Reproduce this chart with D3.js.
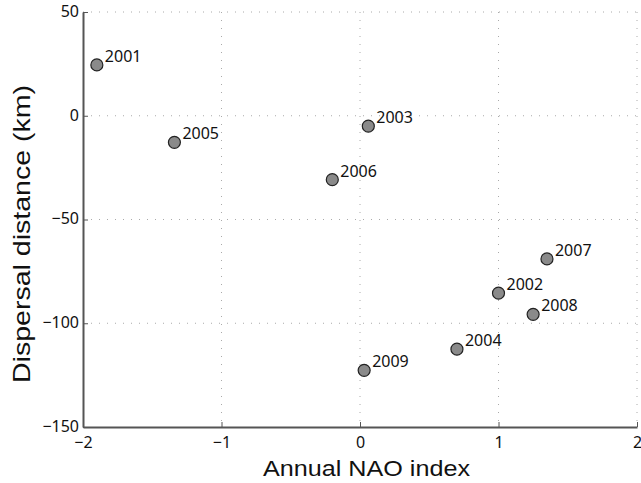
<!DOCTYPE html>
<html>
<head>
<meta charset="utf-8">
<script src="https://d3js.org/d3.v7.min.js"></script>
<style>
  body { margin: 0; background: #fff; }
  text { font-family: "Noto Sans", "Open Sans", sans-serif; fill: #111; }
  .title { font-family: "Liberation Sans", Arial, sans-serif; }
</style>
</head>
<body>
<div id="chart"></div>
<script>
// data
var years = ["2001", "2002", "2003", "2004", "2005", "2006", "2007", "2008", "2009"];
var nao = [-1.90, 1.00, 0.06, 0.70, -1.34, -0.20, 1.35, 1.25, 0.03];
var dispersal = [24.5, -85.5, -5, -112.5, -12.8, -30.8, -69, -95.7, -122.7];
var xTicks = [-2, -1, 0, 1, 2];
var yTicks = [-150, -100, -50, 0, 50];

var margin = {top: 12, right: 4, bottom: 56, left: 83},
    width = 641 - margin.left - margin.right,
    height = 483 - margin.top - margin.bottom;

var x = d3.scaleLinear().domain([-2, 2]).range([0, 554]);
var y = d3.scaleLinear().domain([-150, 50]).range([415, 0]);

var svg = d3.select("#chart").append("svg")
    .attr("width", 641)
    .attr("height", 483)
    .append("g")
    .attr("transform", "translate(" + margin.left + "," + margin.top + ")");

// dotted grid
svg.append("g").selectAll("line")
    .data(xTicks.slice(1))
    .enter().append("line")
    .attr("x1", function(d) { return x(d); })
    .attr("x2", function(d) { return x(d); })
    .attr("y1", 0).attr("y2", y(-150))
    .attr("stroke", "#aaa")
    .attr("stroke-width", 1)
    .attr("stroke-dasharray", "1,7");

svg.append("g").selectAll("line")
    .data(yTicks.slice(1))
    .enter().append("line")
    .attr("x1", 0).attr("x2", x(2))
    .attr("y1", function(d) { return y(d); })
    .attr("y2", function(d) { return y(d); })
    .attr("stroke", "#aaa")
    .attr("stroke-width", 1)
    .attr("stroke-dasharray", "1,7");

// axes
var fmt = function(d) { return d < 0 ? "\u2212" + Math.abs(d) : d; };
var xAxis = svg.append("g")
    .attr("transform", "translate(0," + y(-150) + ")")
    .call(d3.axisBottom(x).tickValues(xTicks).tickSizeInner(-5).tickSizeOuter(0).tickFormat(fmt));
var yAxis = svg.append("g")
    .call(d3.axisLeft(y).tickValues(yTicks).tickSizeInner(-5).tickSizeOuter(0).tickFormat(fmt));

[xAxis, yAxis].forEach(function(a) {
    a.select(".domain").attr("stroke", "#555").attr("stroke-width", 2);
    a.selectAll(".tick line").attr("stroke", "#555");
    a.selectAll(".tick text").style("font-size", "16px").attr("fill", "#111");
});
xAxis.selectAll(".tick text").attr("y", 10);
yAxis.selectAll(".tick text").attr("x", -4).attr("dy", "0.28em");

// points
svg.selectAll(".dot")
    .data(years)
    .enter().append("circle")
    .attr("class", "dot")
    .attr("cx", function(d, i) { return x(nao[i]); })
    .attr("cy", function(d, i) { return y(dispersal[i]); })
    .attr("r", 6)
    .attr("fill", "#8a8a8a")
    .attr("stroke", "#222")
    .attr("stroke-width", 1.2);

svg.selectAll(".lbl")
    .data(years)
    .enter().append("text")
    .attr("class", "lbl")
    .attr("x", function(d, i) { return x(nao[i]) + 8; })
    .attr("y", function(d, i) { return y(dispersal[i]) - 3; })
    .style("font-size", "16px")
    .text(function(d) { return d; });

// axis titles
svg.append("text")
    .attr("class", "title")
    .attr("x", 263 - margin.left)
    .attr("y", 476 - margin.top)
    .attr("textLength", 207)
    .attr("lengthAdjust", "spacingAndGlyphs")
    .style("font-size", "22px")
    .text("Annual NAO index");

svg.append("text")
    .attr("class", "title")
    .attr("transform", "rotate(-90)")
    .attr("x", -(383 - margin.top))
    .attr("y", 30 - margin.left)
    .attr("textLength", 298)
    .attr("lengthAdjust", "spacingAndGlyphs")
    .style("font-size", "24px")
    .text("Dispersal distance (km)");
</script>
</body>
</html>
